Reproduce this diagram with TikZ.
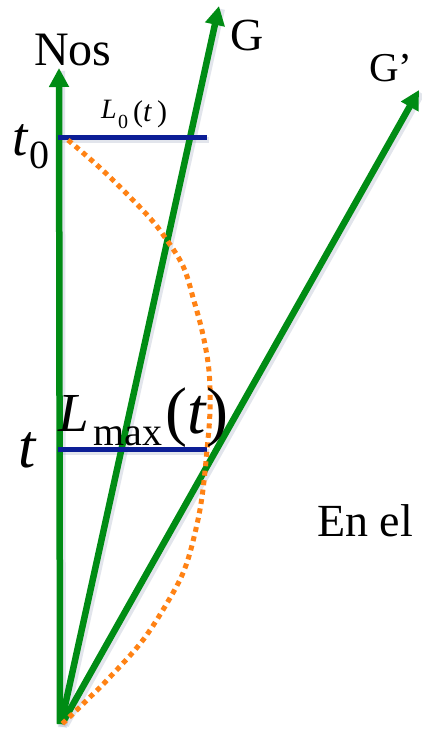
\documentclass[tikz,border=0pt]{standalone}
\usepackage{fontspec}
\setmainfont{Liberation Serif}
\usetikzlibrary{arrows.meta}
\definecolor{lgreen}{RGB}{0,140,20}
\definecolor{lblue}{RGB}{12,30,150}
\definecolor{lorange}{RGB}{255,130,20}
\definecolor{shadowc}{RGB}{140,155,180}
\tikzset{
  worldline/.style={draw=lgreen, line width=6.5pt, -{Triangle[length=19pt,width=19pt]}},
  lenline/.style={draw=lblue, line width=5pt},
  lightpath/.style={draw=lorange, line width=5pt, dash pattern=on 5pt off 4.5pt},
  shade/.style={draw=shadowc, opacity=0.25, line width=8pt},
  lbl/.style={inner sep=0pt, anchor=base west}
}
\begin{document}
\begin{tikzpicture}[x=1pt,y=-1pt]
\useasboundingbox[fill=white] (0,0) rectangle (421,736);
% coordinates
\coordinate (O) at (60,724);
\coordinate (Og) at (61,724);
\coordinate (Ogp) at (63,722);
\coordinate (nos) at (59,68);
\coordinate (g) at (219,6);
\coordinate (gp) at (419,90);
\coordinate (a0) at (58,137);
\coordinate (b0) at (207,137);
\coordinate (a1) at (58,449);
\coordinate (b1) at (207,449);
% shadows
\draw[shade] ([shift={(2,3)}]O) -- ([shift={(2,3)}]nos);
\draw[shade] ([shift={(2,3)}]Og) -- ([shift={(2,3)}]g);
\draw[shade] ([shift={(2,3)}]Ogp) -- ([shift={(2,3)}]gp);
\draw[shade,line width=6pt] ([shift={(2,3)}]a0) -- ([shift={(2,3)}]b0);
\draw[shade,line width=6pt] ([shift={(2,3)}]a1) -- ([shift={(2,3)}]b1);
% world lines
\draw[worldline] (O) -- (nos);
\draw[worldline] (Og) -- (g);
\draw[worldline] (Ogp) -- (gp);
% length lines
\draw[lenline] (a0) -- (b0);
\draw[lenline] (a1) -- (b1);
% light path
\draw[lightpath] plot[smooth, tension=0.6] coordinates {
 (68,140) (98,166) (124,191) (149,217) (164,236) (183,266) (194,301) (203,335)
 (209,371) (210,410) (207,450) (202,497) (195,533) (185,568) (170,598) (143,640)
 (110,677) (85,702) (60,726)};
% labels
\node[lbl, font=\fontsize{48}{48}\selectfont] (Nos) at (34,65) {Nos};
\node[lbl, font=\fontsize{46}{46}\selectfont] (G) at (230,50) {G};
\node[lbl, font=\fontsize{41}{41}\selectfont] (Gp) at (369,81) {G’};
\node[lbl, font=\fontsize{46}{46}\selectfont] (Enel) at (317,536) {En el};
\node[lbl, font=\fontsize{55}{55}\selectfont\itshape] (t0) at (12,155) {t};
\node[lbl, font=\fontsize{40}{40}\selectfont] (t0s) at (29,168) {0};
\node[lbl, font=\fontsize{62}{62}\selectfont\itshape] (t1) at (18,467) {t};
\node[lbl, font=\fontsize{55}{55}\selectfont\itshape] (Lm) at (58,431) {L};
\node[lbl, font=\fontsize{40}{40}\selectfont] (Lms) at (93,445) {max};
\node[lbl, font=\fontsize{66}{66}\selectfont] (Lmt) at (165,433) {(\textit{t})};
\node[lbl, font=\fontsize{28}{28}\selectfont\itshape] (L0) at (101,118) {L};
\node[lbl, font=\fontsize{20}{20}\selectfont] (L0s) at (118,128) {0};
\node[lbl, font=\fontsize{30}{30}\selectfont] (L0t) at (133,121) {(\textit{t}\,)};
\end{tikzpicture}
\end{document}
